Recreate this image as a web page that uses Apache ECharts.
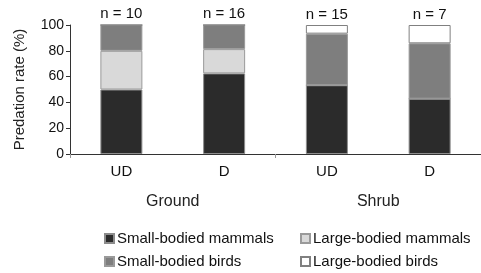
<!DOCTYPE html>
<html>
<head>
<meta charset="utf-8">
<script src="https://cdn.jsdelivr.net/npm/echarts@6/dist/echarts.min.js"></script>
<style>
  html, body { margin: 0; padding: 0; background: #fff; }
  #chart { width: 481px; height: 273px; }
</style>
</head>
<body>
<div id="chart"></div>
<script>
// categories and groups
const categories = ['UD', 'D', 'UD', 'D'];
const groups = ['Ground', 'Shrub'];
const nLabels = ['n = 10', 'n = 16', 'n = 15', 'n = 7'];
const yTicks = [0, 20, 40, 60, 80, 100];

// predation rate (%) per prey type
const smallMammals = [50, 62.5, 53.3, 42.9];
const largeMammals = [30, 18.8, 0, 0];
const smallBirds = [20, 18.7, 40, 42.9];
const largeBirds = [0, 0, 6.7, 14.2];

const font = 'Liberation Sans, Arial, sans-serif';
const chart = echarts.init(document.getElementById('chart'));

function barSeries(name, data, color, border) {
  return {
    name: name,
    type: 'bar',
    stack: 'total',
    barWidth: 42,
    data: data,
    itemStyle: { color: color, borderColor: border, borderWidth: 1 }
  };
}

const series = [
  barSeries('Small-bodied mammals', smallMammals, '#2b2b2b', '#8c8c8c'),
  barSeries('Large-bodied mammals', largeMammals, '#d9d9d9', '#9a9a9a'),
  barSeries('Small-bodied birds', smallBirds, '#7e7e7e', '#9a9a9a'),
  barSeries('Large-bodied birds', largeBirds, '#ffffff', '#808080')
];
// sample sizes above each stack
series[3].label = {
  show: true,
  position: 'top',
  distance: 3,
  color: '#111',
  fontFamily: font,
  fontSize: 15,
  formatter: (p) => nLabels[p.dataIndex]
};

// one legend per item so they sit in a 2x2 block
function legendAt(name, left, top) {
  return {
    data: [name],
    left: left,
    top: top,
    padding: 0,
    icon: 'rect',
    itemWidth: 9,
    itemHeight: 9,
    itemGap: 0,
    textStyle: { fontFamily: font, fontSize: 15, color: '#111', padding: [0, 0, 0, -2] }
  };
}

chart.setOption({
  animation: false,
  backgroundColor: '#fff',
  grid: { left: 70, top: 25, width: 424, height: 129 },
  legend: [
    legendAt('Small-bodied mammals', 104, 231),
    legendAt('Large-bodied mammals', 300, 231),
    legendAt('Small-bodied birds', 104, 254),
    legendAt('Large-bodied birds', 300, 254)
  ],
  xAxis: [
    {
      type: 'category',
      data: categories,
      axisLine: { lineStyle: { color: '#333', width: 1 } },
      axisTick: { show: false },
      axisLabel: { margin: 10, color: '#111', fontFamily: font, fontSize: 15 }
    },
    {
      type: 'category',
      data: groups,
      position: 'bottom',
      axisLine: { show: false },
      axisTick: { show: true, length: 4, lineStyle: { color: '#999' } },
      axisLabel: { margin: 40, color: '#222', fontFamily: font, fontSize: 16 }
    }
  ],
  yAxis: {
    type: 'value',
    min: yTicks[0],
    max: yTicks[yTicks.length - 1],
    interval: yTicks[1] - yTicks[0],
    name: 'Predation rate (%)',
    nameLocation: 'middle',
    nameGap: 43,
    nameTextStyle: { fontFamily: font, fontSize: 15, color: '#222' },
    axisLine: { show: true, lineStyle: { color: '#333', width: 1 } },
    axisTick: { show: true, length: 4, lineStyle: { color: '#333' } },
    splitLine: { show: false },
    axisLabel: { margin: 6, color: '#111', fontFamily: font, fontSize: 14 }
  },
  series: series
});
</script>
</body>
</html>
